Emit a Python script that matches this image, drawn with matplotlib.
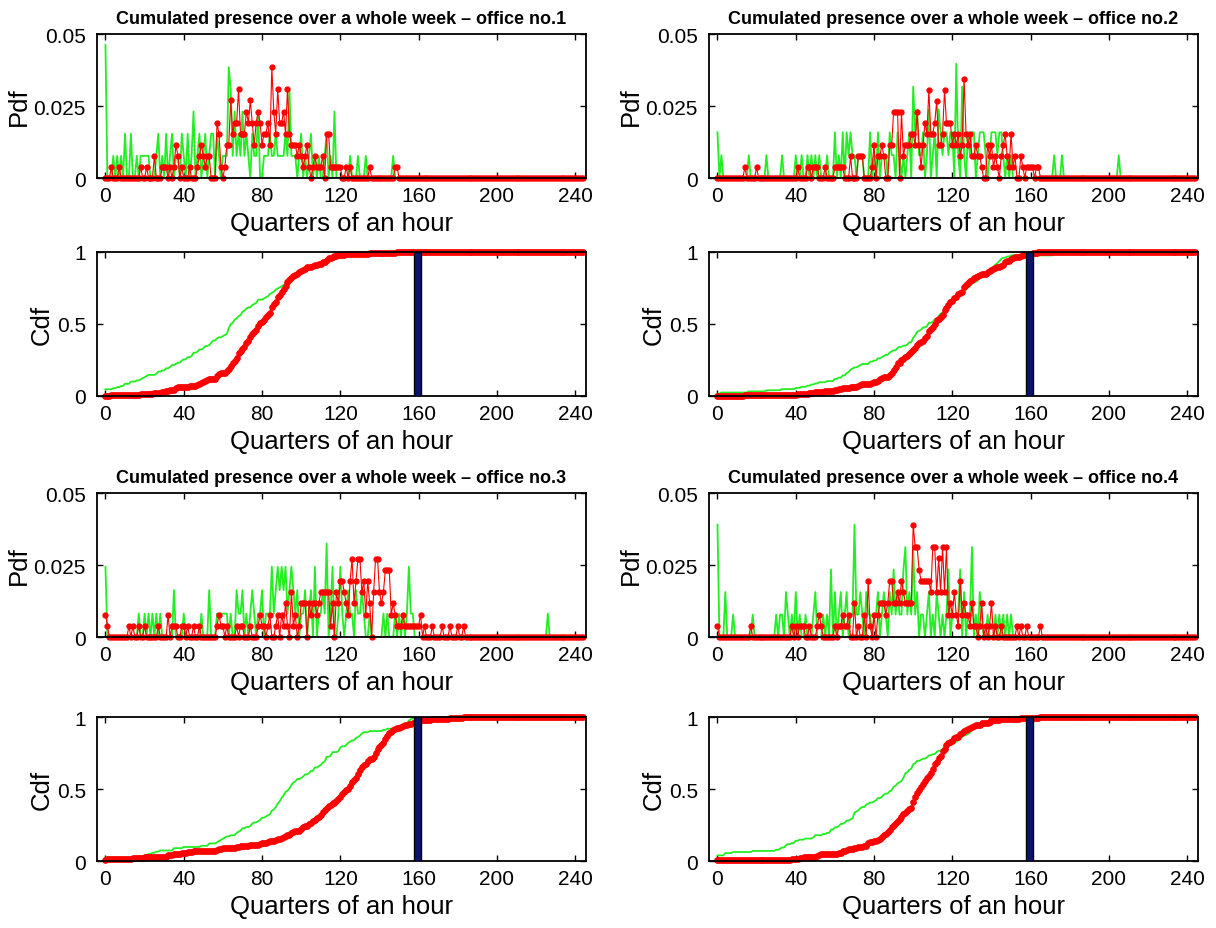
import matplotlib.pyplot as plt
import numpy as np

plt.rcParams['font.family'] = ['Liberation Sans', 'DejaVu Sans']

N = 245  # quarters of an hour shown on the x axis (0..244)

# counts per quarter
# red: steps of about 1/256, green: steps of about 1/128
red_1 = [0,0,0,1,0,0,0,1,0,0, 0,0,0,0,0,0,0,0,1,0, 0,1,0,0,0,2,0,0,0,1,
         1,1,0,1,0,1,3,2,0,1, 0,0,0,1,0,0,0,1,2,3, 2,1,2,2,0,0,0,5,4,1,
         0,1,3,3,7,4,5,5,8,4, 4,4,6,5,7,5,3,5,6,5, 3,4,4,5,3,10,6,4,8,5,
         5,6,4,8,4,3,3,3,2,3, 2,1,2,3,1,0,1,2,1,1, 1,2,0,4,4,1,1,1,1,1,
         1,0,0,1,0,1,0,0,0,0, 0,0,0,0,0,1,0,0,0,0, 0,0,0,0,0,0,0,0,1,1]
green_1 = [6,0,0,0,1,0,1,0,1,0, 2,0,0,2,0,0,1,0,1,1, 1,1,1,0,0,0,1,2,0,1,
           0,2,0,1,2,0,1,1,0,2, 1,0,2,0,1,3,0,1,2,0, 1,2,0,1,2,2,0,2,1,0,
           1,1,1,5,4,1,3,1,2,1, 3,1,2,1,0,2,1,1,3,0, 0,1,1,1,2,1,1,2,1,1,
           1,1,2,1,4,1,1,1,0,1, 2,0,1,0,1,2,0,1,0,1, 0,0,1,2,0,1,0,3,0,0,
           0,0,0,0,0,1,0,0,0,1, 0,0,0,1,0,0,0,0,0,0, 0,0,0,0,0,0,0,1,0,0]

red_2 = [0,0,0,0,0,0,0,0,0,0, 0,0,0,0,1,0,0,0,0,0, 1,0,0,0,0,0,0,0,0,0,
         0,0,0,0,0,0,0,0,0,0, 0,1,0,0,0,0,1,1,0,1, 1,1,0,0,0,1,0,0,0,0,
         1,1,1,1,1,0,0,0,2,0, 0,0,2,2,2,0,0,0,0,1, 3,0,2,2,3,2,0,0,3,3,
         6,6,6,0,6,2,3,3,3,4, 4,3,6,3,1,3,5,4,8,4, 4,5,7,3,3,4,8,5,5,5,
         3,4,3,4,2,3,9,4,3,4, 2,2,3,2,2,1,0,0,3,2, 3,1,2,1,0,2,3,4,2,1,
         4,1,2,0,0,2,1,0,1,1, 1,1,0,1,1,0]
green_2 = [2,0,1,0,0,0,0,0,0,0, 0,0,0,0,0,0,1,0,0,0, 0,0,0,0,0,1,0,0,0,0,
           0,0,0,1,0,0,0,0,0,0, 1,0,0,1,0,0,1,0,1,0, 1,0,1,0,0,0,1,0,0,0,
           2,0,1,0,2,0,2,1,2,1, 1,0,1,1,1,0,0,0,2,0, 1,0,2,0,1,1,1,0,2,1,
           1,0,2,1,0,1,0,1,2,0, 4,2,3,1,1,2,0,1,3,0, 1,2,0,3,2,1,2,2,1,2,
           2,0,5,1,0,4,1,0,2,1, 2,2,0,1,2,2,2,1,0,1, 2,2,2,1,2,2,1,0,1,0,
           1,0,0,0,0,0,0,0,0,0, 0,0,0,0,0,0,0,0,0,0, 0,0,1,0,0,0,1,0,0,0,
           0,0,0,0,0,0,0,0,0,0, 0,0,0,0,0,0,0,0,0,0, 0,0,0,0,0,1]

red_3 = [2,1,0,0,0,0,0,0,0,0, 0,0,1,0,1,0,0,1,0,0, 1,0,0,0,0,0,0,1,0,0,
         0,0,2,0,1,1,1,0,0,1, 1,0,1,0,0,1,0,0,1,0, 0,0,0,0,0,0,0,1,2,1,
         1,0,1,0,0,0,0,1,0,1, 1,0,0,0,1,0,0,0,1,2, 1,1,0,1,2,0,0,1,2,0,
         2,1,3,1,0,4,1,2,0,1, 3,3,3,0,3,2,3,3,2,3, 4,4,4,4,4,1,3,0,4,3,
         5,5,4,3,2,5,7,3,5,7, 7,4,5,2,5,3,0,4,7,7, 4,3,4,6,6,6,2,3,2,1,
         1,1,2,1,1,1,1,1,1,1, 1,2,0,1,0,0,0,1,0,0, 0,0,1,0,0,0,1,0,0,0,
         1,0,0,1]
green_3 = [3,0,0,0,0,0,0,0,0,0, 0,0,0,0,0,0,0,1,0,0, 1,0,1,0,1,0,1,0,1,0,
           0,0,0,0,0,2,0,0,0,0, 1,0,0,0,0,0,0,0,0,1, 0,0,0,2,0,0,0,1,1,1,
           1,1,1,0,1,0,0,2,1,1, 2,0,1,0,1,2,1,0,1,1, 2,0,1,1,1,3,1,2,3,2,
           3,2,3,1,2,3,2,1,2,0, 1,1,2,0,1,2,0,3,0,1, 1,2,1,4,0,1,3,0,0,1,
           3,1,0,1,2,1,1,0,2,1, 1,2,1,0,0,1,0,0,0,0, 0,0,1,0,1,0,0,0,1,0,
           1,0,1,0,1,3,1,1,0,0, 0,0,0,0,0,0,0,0,0,0, 0,0,0,0,0,0,0,0,0,0,
           0,0,0,0,0,0,0,0,0,0, 0,0,0,0,0,0,0,0,0,0, 0,0,0,0,0,0,0,0,0,0,
           0,0,0,0,0,0,0,0,0,0, 0,0,0,0,0,0,1]

red_4 = [1,0,0,0,0,0,0,0,0,0, 0,0,0,0,0,0,0,1,0,0, 0,0,0,0,0,0,0,0,0,0,
         0,0,0,0,0,0,0,0,1,0, 1,0,1,1,1,0,0,1,0,0, 0,1,2,1,0,0,0,0,0,0,
         1,0,1,1,2,1,1,2,0,0, 3,0,1,0,0,2,0,5,1,0, 2,0,2,3,3,3,2,3,5,5,
         3,3,4,3,5,4,3,3,3,3, 10,8,8,6,5,5,5,5,5,4, 8,8,4,7,4,8,4,8,2,3,
         2,4,2,1,5,2,3,2,2,1, 3,1,1,0,1,3,0,1,0,1, 3,0,1,0,0,1,0,0,0,0,
         0,0,0,1,0,1,0,0,1,0, 0,0,0,0,0,1]
green_4 = [5,0,0,0,2,0,0,0,1,0, 0,0,0,0,0,0,0,0,1,0, 0,0,0,0,0,0,0,0,0,0,
           1,0,1,1,0,2,1,0,1,0, 2,0,1,0,0,1,0,0,0,1, 2,0,0,0,1,0,1,0,3,0,
           2,0,1,2,0,1,2,0,1,1, 5,1,1,2,1,0,2,1,1,0, 1,1,2,0,1,2,1,0,2,1,
           3,1,2,1,1,3,4,1,2,1, 4,1,2,0,1,1,0,1,2,0, 1,0,2,1,0,1,0,1,3,0,
           1,1,1,1,3,0,2,0,1,1, 4,0,1,0,2,1,0,0,1,0, 0,0,1,0,1,0,1,0,1,0,
           1]

offices = [1, 2, 3, 4]
reds = [red_1, red_2, red_3, red_4]
greens = [green_1, green_2, green_3, green_4]
bar_at = 159.5  # dark blue marker near 160 quarters

x = np.arange(N)


def pad(c):
    c = np.array(c + [0] * (N - len(c)), dtype=float)
    return c / c.sum()


fig = plt.figure(figsize=(12.16, 9.29), dpi=100)

lefts = [0.0798, 0.5831]
pdf_bottoms = [0.8073, 0.3132]
cdf_bottoms = [0.5727, 0.0721]
w = 0.4021
h = 0.155

green_c = '#22ee22'
red_c = '#ff0000'


def style(ax):
    ax.set_xlim(-4.3, 245.5)
    ax.set_xticks(range(0, 241, 40))
    ax.tick_params(direction='in', top=True, right=True, length=4, width=1,
                   labelsize=15)
    ax.tick_params(axis='x', pad=6)
    ax.tick_params(axis='y', pad=8)
    for s in ax.spines.values():
        s.set_linewidth(1.3)
    ax.set_xlabel('Quarters of an hour', fontsize=18.5, labelpad=4)


for i in range(4):
    col = i % 2
    row = i // 2
    pg = pad(greens[i])
    pr = pad(reds[i])

    ax = fig.add_axes([lefts[col], pdf_bottoms[row], w, h])
    ax.axhline(0, color='black', lw=1)
    ax.plot(x, pg, color=green_c, lw=1.3)
    ax.plot(x, pr, color=red_c, lw=0.8, marker='o', ms=3.5, clip_on=False)
    ax.set_ylim(0, 0.05)
    ax.set_yticks([0, 0.025, 0.05])
    ax.set_yticklabels(['0', '0.025', '0.05'])
    ax.set_ylabel('Pdf', fontsize=18.5, labelpad=2)
    ax.set_title('Cumulated presence over a whole week \u2013 office no.%d' % offices[i],
                 fontsize=13, fontweight='bold', pad=8)
    style(ax)

    ax = fig.add_axes([lefts[col], cdf_bottoms[row], w, h])
    ax.plot(x, np.cumsum(pg), color=green_c, lw=1.3)
    ax.plot(x, np.cumsum(pr), color=red_c, lw=1, marker='o', ms=3.8, clip_on=False)
    ax.bar(bar_at, 1, width=3.6, color='#0b1570', edgecolor='black', lw=1, zorder=3)
    ax.set_ylim(0, 1)
    ax.set_yticks([0, 0.5, 1])
    ax.set_yticklabels(['0', '0.5', '1'])
    ax.set_ylabel('Cdf', fontsize=18.5, labelpad=2)
    style(ax)

plt.savefig('out.png', dpi=100)
